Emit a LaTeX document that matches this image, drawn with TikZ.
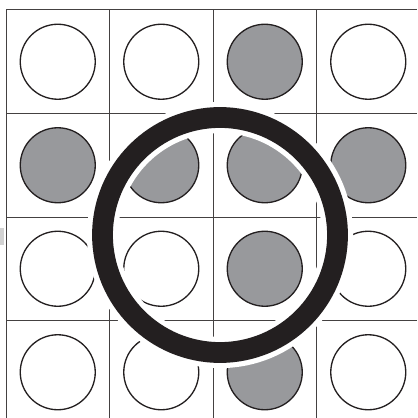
\documentclass[tikz,border=0pt]{standalone}
\usetikzlibrary{positioning}
\definecolor{inkblack}{RGB}{35,31,32}
\definecolor{dotgrey}{RGB}{152,153,156}
\begin{document}
\begin{tikzpicture}[
  x=0.25mm, y=-0.25mm,
  gridline/.style={draw=inkblack!85, line width=0.25mm},
  dot/.style={circle, draw=inkblack, line width=0.33mm, minimum size=18.75mm, inner sep=0pt},
  filled/.style={dot, fill=dotgrey},
  ring/.style={circle, draw=white, line width=1.3mm, double=inkblack, double distance=5.2mm, minimum size=58.75mm, inner sep=0pt}
]
\useasboundingbox (0,0) rectangle (417,418);
\fill[gray!35] (0,228) rectangle (4,245);

% grid
\foreach \i in {0,...,4} {
  \draw[gridline] (6+103.5*\i,10) -- (6+103.5*\i,418);
  \draw[gridline] (6,10+103.5*\i) -- (417,10+103.5*\i);
}

% dots
\foreach \c/\r/\s in {1/1/dot, 2/1/dot, 3/1/filled, 4/1/dot,
                      1/2/filled, 2/2/filled, 3/2/filled, 4/2/filled,
                      1/3/dot, 2/3/dot, 3/3/filled, 4/3/dot,
                      1/4/dot, 2/4/dot, 3/4/filled, 4/4/dot}
  \node[\s] (d\r\c) at (6+103.5*\c-51.75, 10+103.5*\r-51.75) {};

% ring
\node[ring] (lens) at (220,235) {};

\end{tikzpicture}
\end{document}
